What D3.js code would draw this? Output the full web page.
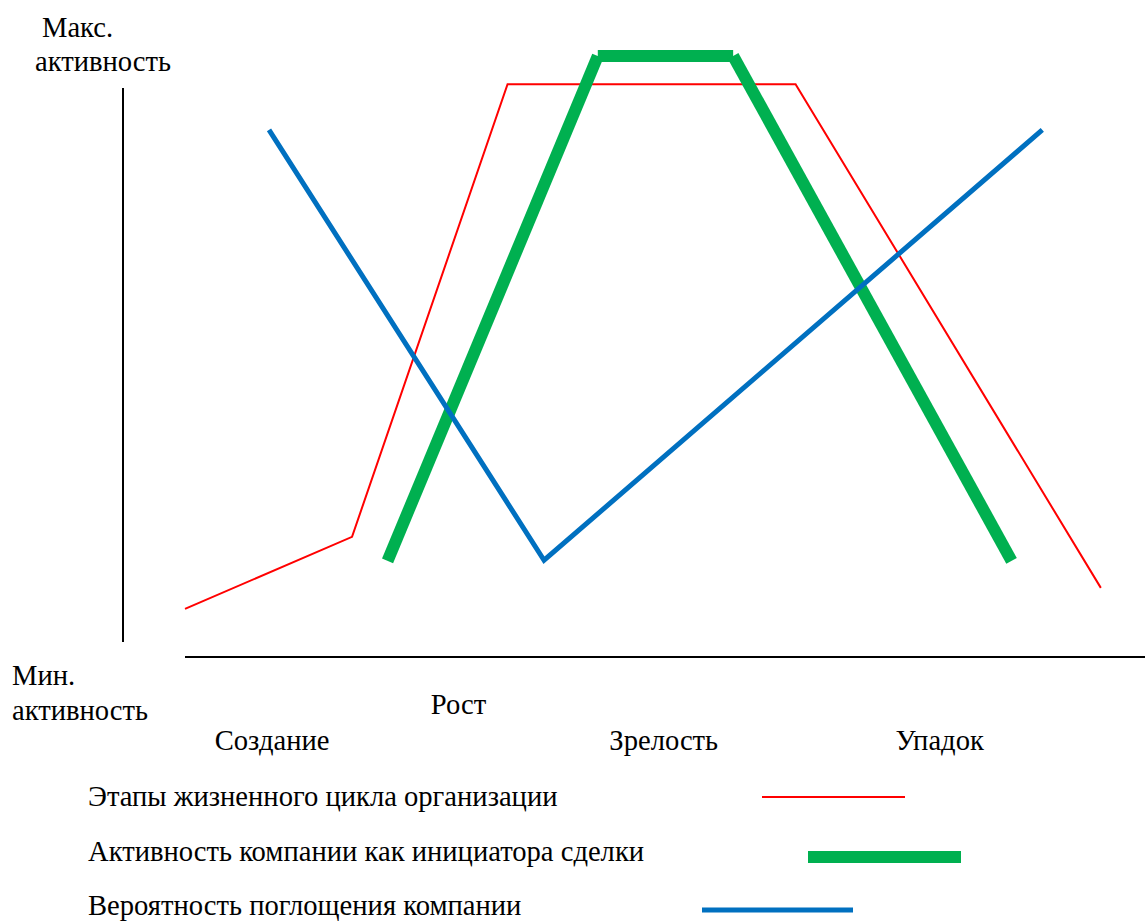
<!DOCTYPE html>
<html>
<head>
<meta charset="utf-8">
<script src="https://cdn.jsdelivr.net/npm/d3@7"></script>
<style>
  html, body { margin: 0; padding: 0; background: #fff; }
  #chart, #chart text { font-family: "Liberation Serif", Tinos, "Times New Roman", serif; }
</style>
</head>
<body>
<svg id="chart" width="1145" height="922" font-family="Liberation Serif"></svg>
<script>
// Stage positions along the time axis (0–100) and activity level (0–100)
const lifecycleX   = [0, 17.4, 33.6, 63.6, 95.4];
const lifecycleY   = [8.0, 20.0, 95.3, 95.3, 11.5];

const initiatorX   = [21.1, 43.0, 57.1, 86.1];
const initiatorY   = [16.0, 100, 100, 16.0];

const takeoverX    = [8.75, 37.4, 89.3];
const takeoverY    = [87.7, 16.1, 87.7];

const stageLabels  = ["Рост", "Создание", "Зрелость", "Упадок"];
const stageLabelX  = [25.6, 3.1, 44.2, 74.0];
const stageRow     = [0, 1, 1, 1];

const seriesNames  = [
  "Этапы жизненного цикла организации",
  "Активность компании как инициатора сделки",
  "Вероятность поглощения компании"
];
const seriesColors = ["#ff0000", "#00b050", "#0070c0"];
const seriesWidths = [2, 12, 5];

const fs = 28.6;

const svg = d3.select("#chart");

const x = d3.scaleLinear().domain([0, 100]).range([185, 1145]);
const y = d3.scaleLinear().domain([0, 100]).range([657, 56]);

function label(px, py, str) {
  return svg.append("text")
    .attr("x", px).attr("y", py)
    .attr("font-size", fs)
    .attr("font-family", "Liberation Serif")
    .style("font-family", '"Liberation Serif"')
    .text(str);
}

// Axes: a bare vertical line for activity and a horizontal time line
svg.append("line")
  .attr("x1", 123).attr("x2", 123)
  .attr("y1", 88).attr("y2", 642)
  .attr("stroke", "#000").attr("stroke-width", 2);

svg.append("line")
  .attr("x1", x(0)).attr("x2", x(100))
  .attr("y1", y(0)).attr("y2", y(0))
  .attr("stroke", "#000").attr("stroke-width", 2);

// Axis captions
label(42, 37, "Макс.");
label(35, 71, "активность");
label(12, 685, "Мин.");
label(12, 720, "активность");

stageLabels.forEach((d, i) => {
  label(x(stageLabelX[i]), stageRow[i] === 0 ? 714 : 750, d);
});

// Series lines
const series = [
  { xs: lifecycleX, ys: lifecycleY },
  { xs: initiatorX, ys: initiatorY },
  { xs: takeoverX,  ys: takeoverY }
];

const line = d3.line().x(d => x(d[0])).y(d => y(d[1]));

series.forEach((s, i) => {
  const pts = s.xs.map((v, k) => [v, s.ys[k]]);
  if (i === 1) {
    // thick line is drawn segment by segment with square-cut ends
    for (let k = 0; k < pts.length - 1; k++) {
      svg.append("path")
        .attr("d", line([pts[k], pts[k + 1]]))
        .attr("fill", "none")
        .attr("stroke", seriesColors[i])
        .attr("stroke-width", seriesWidths[i])
        .attr("stroke-linecap", "butt");
    }
  } else {
    svg.append("path")
      .attr("d", line(pts))
      .attr("fill", "none")
      .attr("stroke", seriesColors[i])
      .attr("stroke-width", seriesWidths[i])
      .attr("stroke-linejoin", "miter");
  }
});

// Legend
const legendY  = [806, 861, 915];
const legendLine = [[762, 905, 797], [808, 961, 857], [702, 853, 910]];

seriesNames.forEach((name, i) => {
  label(88, legendY[i], name);
  svg.append("line")
    .attr("x1", legendLine[i][0]).attr("x2", legendLine[i][1])
    .attr("y1", legendLine[i][2]).attr("y2", legendLine[i][2])
    .attr("stroke", seriesColors[i])
    .attr("stroke-width", seriesWidths[i]);
});
</script>
</body>
</html>
